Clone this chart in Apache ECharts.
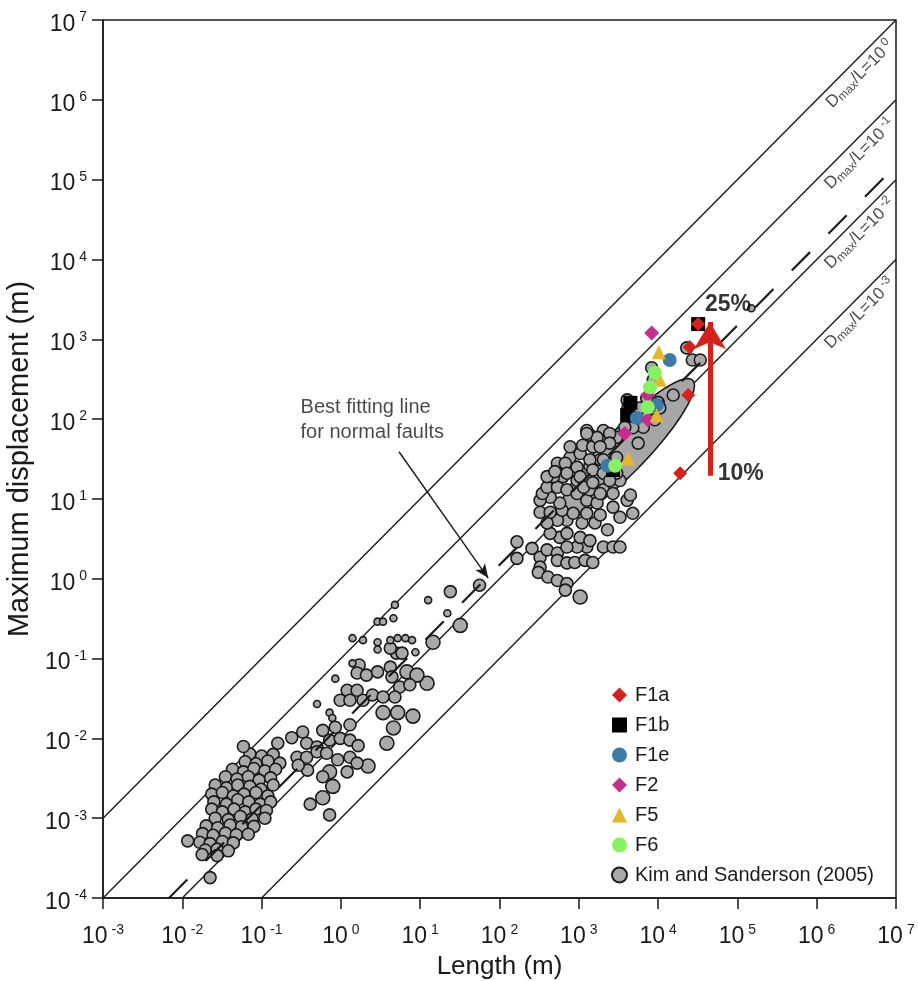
<!DOCTYPE html>
<html>
<head>
<meta charset="utf-8">
<script src="https://cdn.jsdelivr.net/npm/echarts@6/dist/echarts.min.js"></script>
<style>
html,body{margin:0;padding:0;background:#fff}
#chart{width:918px;height:981px}
</style>
</head>
<body>
<div id="chart"></div>
<script>
// Maximum displacement vs. fault length (log-log)

// tick values, one per decade
const xTicks = [1e-3, 1e-2, 1e-1, 1e0, 1e1, 1e2, 1e3, 1e4, 1e5, 1e6, 1e7];
const yTicks = [1e-4, 1e-3, 1e-2, 1e-1, 1e0, 1e1, 1e2, 1e3, 1e4, 1e5, 1e6, 1e7];

// Dmax/L reference ratios and their exponents
const ratioLines = [1, 0.1, 0.01, 0.001];
const ratioExponents = ['0', '-1', '-2', '-3'];

// Best fitting line for normal faults (D ~ 0.015 L), end points [L, D]
const bestFitLine = [[0.0068, 1.0e-4], [1.0e7, 1.5e5]];

// Kim and Sanderson (2005) compilation, [length m, max displacement m]
const ksSmall = [
  [4.8,0.47],[12.6,0.54],[22,0.37],[2.9,0.29],[3.4,0.29],[4.6,0.32],[1.4,0.18],[1.9,0.17],
  [2.9,0.16],[2.9,0.13],[4.2,0.17],[5.2,0.18],[6.5,0.18],[7.9,0.17],[8.7,0.12],[1.4,0.087],
  [0.85,0.056],[0.50,0.027],[0.72,0.021],[0.78,0.018],[1.5e5,2450]
];
const ksMedium = [
  [0.071,6.4e-3],[0.10,6.0e-3],[0.14,6.3e-3],
  [0.062,5.1e-3],[0.085,4.8e-3],[0.12,5.2e-3],[0.17,4.9e-3],
  [0.043,4.1e-3],[0.059,3.8e-3],[0.080,4.2e-3],[0.11,3.9e-3],[0.15,4.1e-3],
  [0.035,3.3e-3],[0.049,3.1e-3],[0.068,3.3e-3],[0.093,3.0e-3],[0.13,3.2e-3],
  [0.026,2.6e-3],[0.036,2.4e-3],[0.050,2.6e-3],[0.071,2.5e-3],[0.098,2.3e-3],[0.14,2.6e-3],
  [0.0235,2.0e-3],[0.032,2.1e-3],[0.044,1.9e-3],[0.060,2.0e-3],[0.085,2.1e-3],[0.12,1.9e-3],
  [0.025,1.6e-3],[0.036,1.5e-3],[0.050,1.7e-3],[0.069,1.6e-3],[0.096,1.5e-3],[0.13,1.6e-3],
  [0.0235,1.3e-3],[0.032,1.2e-3],[0.045,1.3e-3],[0.062,1.2e-3],[0.085,1.3e-3],[0.115,1.25e-3],
  [0.026,1.0e-3],[0.038,9.6e-4],[0.054,1.05e-3],[0.076,9.8e-4],
  [0.020,8.0e-4],[0.028,7.6e-4],[0.040,8.2e-4],[0.056,7.8e-4],[0.080,7.9e-4],
  [0.018,6.4e-4],[0.0245,6.1e-4],[0.035,6.5e-4],[0.048,6.2e-4],[0.068,6.3e-4],
  [0.0166,5.0e-4],[0.0224,4.8e-4],[0.032,5.1e-4],[0.044,4.9e-4],
  [0.0195,4.0e-4],[0.0275,4.1e-4],[0.038,3.9e-4],
  [0.0117,5.2e-4],[0.0178,3.5e-4],[0.0275,3.4e-4],[0.0224,1.8e-4],[0.11,1.0e-3],[0.059,7.9e-3],
  [1.7,0.083],[1.6,0.066],[2.1,0.062],[2.9,0.068],[4.2,0.078],[4.4,0.059],[5.5,0.044],[7.4,0.047],
  [1.2,0.040],[1.6,0.040],[0.98,0.030],[1.3,0.030],[1.9,0.030],[2.5,0.035],[3.4,0.033],[4.8,0.033],
  [5.0,0.117],[5.9,0.117],[4.2,0.135],[0.33,0.012],[0.59,0.0126],[0.85,0.0138],[1.3,0.0148],
  [0.24,0.0102],[0.16,0.0087],[0.37,0.0087],[0.50,0.0078],[0.72,0.0095],[0.98,0.010],[1.3,0.0095],
  [1.65,0.0081],[0.28,0.0058],[0.37,0.0058],[0.50,0.0068],[0.66,0.0065],[0.91,0.0054],[1.3,0.0058],
  [1.6,0.0049],[1.2,0.0038],[0.59,0.0033],[0.38,0.0040],[0.29,0.0046],[0.41,0.0015],[0.72,0.0011],
  [24,0.69],[166,2.9],[166,1.8],[56,0.83],
  [257,2.4],[325,1.86],[398,2.3],[537,2.1],[325,1.4],[309,1.2],[408,1.05],[537,0.95],[708,0.87],
  [676,0.72],[537,1.7],[708,1.58],[890,1.6],[1200,1.7],[1500,1.6],[1260,2.5],[950,2.5],
  [708,2.5],[575,3.3],[436,3.7],[708,3.7],[1040,3.3],[1380,3.0],[2040,2.5],[2700,2.5],[3300,2.5],
  [2300,4.1],[1600,5.0],[1100,5.0],[708,5.4],[537,5.4],[398,5.0],[325,6.8],[436,6.8],[617,7.2],
  [851,6.6],[1260,6.6],[1860,6.3],[2700,7.9],[575,8.9],[436,10.5],[325,9.6],[347,11.7],[398,14],
  [537,14],[708,13],[950,11.7],[1260,9.6],[1700,8.9],[2040,13],[2700,11.7],[1380,13],[950,17],
  [630,19],[480,19],[398,19],[537,28],[708,25],[950,25],[1380,26],[1860,31],[2450,28],[776,33],
  [1040,37],[1120,47],[1500,45],[776,45],[1860,55],[1380,63],[1260,72],[2040,72],[4070,9.6],
  [4790,6.6],[3300,5.9],[4470,11.2],[3300,17],
  [23000,780],[27000,550],[34000,550],[8300,440],[8700,310],[15500,200],[7200,182],[4070,174],
  [4170,138],[5900,138],[10000,162],[10500,138],[9100,98],[6500,79],[4800,78],[3800,79],
  [3000,59],[2450,66],[1700,59],[1260,66],[2450,50],[1860,45],[676,28],[1380,31],[2040,31],
  [1500,23],[1040,19],[708,21],[500,22],[1150,14],[1500,16],[2040,21],[3000,21],[3000,33],
  [5600,50],[2450,17],[1860,11.7]
];
const ksLarge = [
  [14.5,0.16],[12.2,0.049],[6.8,0.068],[9.1,0.062],[8.1,0.019],[5.2,0.021],[3.4,0.021],
  [4.6,0.0135],[3.8,0.0087],[2.2,0.0045],[0.79,0.0025],[0.59,0.0018],[0.72,0.0038],[32,0.26],
  [1040,0.59]
];

// Faults of this study
const f1a = [[32000,1550],[25000,800],[24000,200],[19000,21]];
const f1b = [[32000,1550],[4470,160],[4070,112],[2700,23]];
const f1e = [[14000,550],[9600,150],[5400,103],[2300,26]];
const f2  = [[8300,1200],[7400,200],[7400,98],[3800,66]];
const f5  = [[10200,690],[10500,310],[9600,112],[4170,32]];
const f6  = [[9100,380],[7900,250],[7400,141],[2880,26]];

// Envelope of the cluster: centre [L, D], semi-axes in decades, tilt in degrees
const clusterEllipse = [[4000, 42, 1.2, 0.27, 46]];

// Increase of Dmax/L from 10% to 25%
const ratioArrow = [[45000, 19.5], [45000, 1650]];

const FONT = '"Liberation Sans", Arial, Helvetica, sans-serif';
const INK = '#1a1a1a';

const chart = echarts.init(document.getElementById('chart'));

const tickRich = {
  b: { fontFamily: FONT, fontSize: 23, lineHeight: 23, color: INK, padding: [9, 0, 0, 0] },
  s: { fontFamily: FONT, fontSize: 14, lineHeight: 14, color: INK, padding: [0, 0, 5, 4] }
};
const powerLabel = v => `{b|10}{s|${Math.round(Math.log10(v))}}`;

function ellipseShape(params, api) {
  const cx = Math.log10(api.value(0));
  const cy = Math.log10(api.value(1));
  const a = api.value(2), b = api.value(3);
  const th = api.value(4) * Math.PI / 180;
  const pts = [];
  for (let i = 0; i < 120; i++) {
    const t = i / 120 * Math.PI * 2;
    const lx = cx + a * Math.cos(t) * Math.cos(th) - b * Math.sin(t) * Math.sin(th);
    const ly = cy + a * Math.cos(t) * Math.sin(th) + b * Math.sin(t) * Math.cos(th);
    pts.push(api.coord([Math.pow(10, lx), Math.pow(10, ly)]));
  }
  return {
    type: 'polygon',
    shape: { points: pts },
    style: { fill: '#a6a6a6', stroke: INK, lineWidth: 1.6 }
  };
}

const ksStyle = { color: '#a9a9a9', borderColor: INK, borderWidth: 1.6, opacity: 1 };
const KS = 'Kim and Sanderson (2005)';

const ratioRich = {
  d: { fontFamily: FONT, fontSize: 17, color: INK },
  m: { fontFamily: FONT, fontSize: 12, color: INK, padding: [7, 0, 0, 0] },
  e: { fontFamily: FONT, fontSize: 12, color: INK, padding: [0, 0, 10, 3] }
};

const series = [];

// Dmax/L = const lines
ratioLines.forEach(r => {
  series.push({
    type: 'line', silent: true, z: 1, symbol: 'none',
    data: [[Math.max(1e-3, 1e-4 / r), Math.max(1e-3 * r, 1e-4)], [1e7, 1e7 * r]],
    lineStyle: { color: INK, width: 1.4 }
  });
});

// ratio line captions
series.push({
  type: 'scatter', silent: true, z: 6, symbolSize: 0,
  data: ratioLines.map((r, i) => ({ value: [3.5e6, r * 2.1e6], name: ratioExponents[i] })),
  label: {
    show: true, position: 'inside', rotate: 45,
    formatter: p => `{d|D}{m|max}{d|/L=10}{e|${p.name}}`,
    rich: ratioRich
  }
});

series.push({
  type: 'custom', silent: true, z: 2,
  renderItem: ellipseShape,
  data: clusterEllipse,
  encode: { x: 0, y: 1 }
});

series.push({ type: 'scatter', name: KS, z: 3, data: ksLarge, symbol: 'circle', symbolSize: 14, itemStyle: ksStyle });
series.push({ type: 'scatter', name: KS, z: 3, data: ksMedium, symbol: 'circle', symbolSize: 12, itemStyle: ksStyle });
series.push({ type: 'scatter', name: KS, z: 3, data: ksSmall, symbol: 'circle', symbolSize: 7, itemStyle: ksStyle });

// best fitting line
series.push({
  type: 'line', silent: true, z: 4, symbol: 'none',
  data: bestFitLine,
  lineStyle: { color: INK, width: 2.2, type: [26, 26] }
});

// study faults
const solid = c => ({ color: c, opacity: 1 });
series.push({ type: 'scatter', name: 'F1b', z: 5, data: f1b, symbol: 'rect', symbolSize: 14, itemStyle: solid('#000') });
series.push({ type: 'scatter', name: 'F1e', z: 5, data: f1e, symbol: 'circle', symbolSize: 14, itemStyle: solid('#3f7ba8') });
series.push({ type: 'scatter', name: 'F2', z: 5, data: f2, symbol: 'diamond', symbolSize: 15, itemStyle: solid('#c2308c') });
series.push({ type: 'scatter', name: 'F5', z: 5, data: f5, symbol: 'triangle', symbolSize: 14, itemStyle: solid('#e5b52b') });
series.push({ type: 'scatter', name: 'F6', z: 5, data: f6, symbol: 'circle', symbolSize: 14, itemStyle: solid('#86f25e') });
series.push({ type: 'scatter', name: 'F1a', z: 5, data: f1a, symbol: 'diamond', symbolSize: 14, itemStyle: solid('#d4211c') });

// arrows and notes
series.push({
  type: 'line', silent: true, z: 7, data: [],
  markLine: {
    silent: true, animation: false,
    symbol: ['none', 'arrow'],
    label: { show: false },
    data: [
      [{ coord: ratioArrow[0], symbolSize: 0 },
       { coord: ratioArrow[1], symbolSize: [24, 27] }],
    ],
    lineStyle: { color: '#d4211c', width: 5, type: 'solid', opacity: 1 }
  }
});
series.push({
  type: 'line', silent: true, z: 7, data: [],
  markLine: {
    silent: true, animation: false,
    symbol: ['none', 'arrow'],
    symbolSize: [9, 14],
    label: { show: false },
    data: [[{ coord: [5.4, 39] }, { coord: [72, 1.02] }]],
    lineStyle: { color: INK, width: 1.4, type: 'solid', opacity: 1 }
  }
});
series.push({
  type: 'scatter', silent: true, z: 8, symbolSize: 0,
  data: [
    { value: [76000, 2700], name: '25%' },
    { value: [110000, 21], name: '10%' }
  ],
  label: {
    show: true, position: 'inside', formatter: p => p.name,
    fontFamily: FONT, fontSize: 23, fontWeight: 'bold', color: '#000'
  }
});
series.push({
  type: 'scatter', silent: true, z: 8, symbolSize: 0,
  data: [{ value: [0.31, 98], name: 'Best fitting line\nfor normal faults' }],
  label: {
    show: true, position: 'right', distance: 0, align: 'left',
    formatter: p => p.name,
    fontFamily: FONT, fontSize: 20, lineHeight: 25, color: INK
  }
});

chart.setOption({
  animation: false,
  backgroundColor: '#fff',
  grid: {
    left: 103, right: 22, top: 20, bottom: 83,
    containLabel: false, outerBoundsMode: 'none',
    show: true, borderColor: INK, borderWidth: 1.5, backgroundColor: 'transparent'
  },
  legend: {
    orient: 'vertical', left: 606, top: 680,
    itemWidth: 15, itemHeight: 15, itemGap: 10,
    data: ['F1a', 'F1b', 'F1e', 'F2', 'F5', 'F6', KS],
    textStyle: { fontFamily: FONT, fontSize: 20, color: INK, padding: [0, 0, 0, 3] },
    selectedMode: false
  },
  xAxis: {
    type: 'log', logBase: 10, min: 1e-3, max: 1e7,
    name: 'Length (m)', nameLocation: 'middle', nameGap: 55,
    nameTextStyle: { fontFamily: FONT, fontSize: 26, color: INK },
    axisLine: { show: true, lineStyle: { color: INK, width: 1.5 } },
    axisTick: { show: true, inside: false, length: 11, customValues: xTicks, lineStyle: { color: INK, width: 1.5 } },
    minorTick: { show: false },
    splitLine: { show: false },
    axisLabel: { margin: 23, customValues: xTicks, formatter: powerLabel, rich: tickRich }
  },
  yAxis: {
    type: 'log', logBase: 10, min: 1e-4, max: 1e7,
    name: 'Maximum displacement (m)', nameLocation: 'middle', nameGap: 66, nameRotate: 90,
    nameTextStyle: { fontFamily: FONT, fontSize: 29, color: INK },
    axisLine: { show: true, lineStyle: { color: INK, width: 1.5 } },
    axisTick: { show: true, inside: false, length: 11, customValues: yTicks, lineStyle: { color: INK, width: 1.5 } },
    minorTick: { show: false },
    splitLine: { show: false },
    axisLabel: { margin: 16, customValues: yTicks, formatter: powerLabel, rich: tickRich }
  },
  series
});
</script>
</body>
</html>
